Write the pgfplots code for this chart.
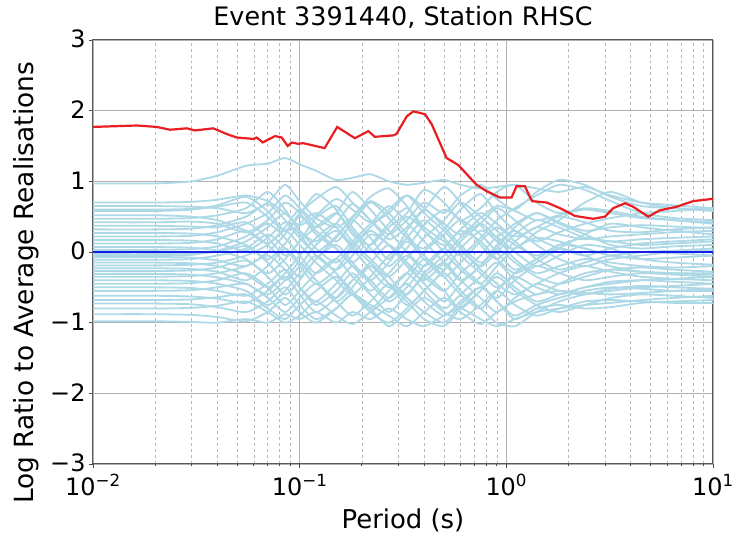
\documentclass[border=0pt]{standalone}
\usepackage{pgfplots}
\usepackage{pgfplotstable}
\pgfplotsset{compat=1.18}
\usepackage{fontspec}
\setmainfont{DejaVu Sans}
\definecolor{lb}{RGB}{173,216,230}
\definecolor{myred}{RGB}{232,30,35}
\definecolor{myblue}{RGB}{20,30,235}
\definecolor{gridc}{RGB}{176,176,176}

\pgfplotstableread{
T 0.01 0.02 0.03 0.04 0.055 0.07 0.085 0.1 0.12 0.15 0.18 0.22 0.27 0.33 0.4 0.5 0.6 0.75 0.9 1.1 1.4 1.8 2.4 3.2 4.5 6.5 10
1 0.97 0.97 1.00 1.08 1.22 1.25 1.33 1.24 1.15 1.02 1.05 1.10 1.00 0.95 0.98 1.02 0.95 0.90 0.92 0.95 0.90 0.85 0.92 0.80 0.70 0.66 0.62
2 0.70 0.70 0.71 0.74 0.80 0.72 0.55 0.38 0.52 0.75 0.60 0.42 0.55 0.80 0.62 0.40 0.25 0.48 0.65 0.58 0.45 0.52 0.60 0.55 0.48 0.45 0.42
3 0.65 0.65 0.64 0.62 0.55 0.70 0.95 0.72 0.48 0.35 0.50 0.78 0.90 0.65 0.30 0.10 0.32 0.55 0.40 0.22 0.35 0.50 0.42 0.30 0.28 0.32 0.35
4 0.58 0.58 0.60 0.66 0.78 0.58 0.30 0.52 0.82 0.60 0.25 0.10 0.35 0.55 0.88 0.70 0.45 0.62 0.85 0.95 0.70 0.55 0.62 0.58 0.50 0.45 0.40
5 0.52 0.52 0.50 0.45 0.30 0.12 0.35 0.60 0.40 0.15 0.42 0.70 0.48 0.20 0.05 0.32 0.60 0.82 0.55 0.30 0.15 0.28 0.40 0.48 0.55 0.58 0.62
6 0.47 0.47 0.48 0.52 0.62 0.85 0.60 0.30 0.15 0.40 0.68 0.45 0.18 0.35 0.60 0.92 0.70 0.38 0.15 0.05 0.28 0.45 0.70 0.85 0.70 0.62 0.58
7 0.42 0.42 0.43 0.40 0.28 0.45 0.70 0.55 0.25 0.05 -0.15 0.10 0.40 0.62 0.35 0.15 -0.05 0.20 0.45 0.62 0.80 0.95 0.88 0.72 0.55 0.48 0.45
8 0.37 0.37 0.36 0.35 0.42 0.20 -0.05 0.15 0.48 0.65 0.35 0.05 -0.20 0.05 0.38 0.60 0.45 0.10 -0.10 0.15 0.35 0.25 0.18 0.22 0.25 0.28 0.30
9 0.32 0.32 0.33 0.38 0.50 0.68 0.45 0.20 0.00 0.22 0.48 0.72 0.55 0.25 -0.05 -0.25 0.05 0.30 0.22 0.40 0.55 0.42 0.30 0.35 0.38 0.36 0.34
10 0.27 0.27 0.26 0.22 0.10 -0.10 0.12 0.40 0.55 0.35 0.10 -0.15 -0.35 -0.10 0.20 0.45 0.70 0.50 0.30 0.10 -0.05 0.10 0.20 0.15 0.18 0.20 0.22
11 0.22 0.22 0.23 0.28 0.40 0.55 0.80 0.62 0.35 0.55 0.85 0.60 0.30 0.00 -0.20 0.05 0.30 0.15 -0.10 -0.30 -0.15 0.05 0.25 0.40 0.35 0.30 0.25
12 0.17 0.17 0.16 0.12 0.02 0.20 0.42 0.25 -0.05 -0.25 -0.05 0.25 0.10 -0.20 -0.40 -0.15 0.15 0.40 0.62 0.45 0.20 0.05 -0.05 0.05 0.12 0.15 0.18
13 0.12 0.12 0.13 0.18 0.30 0.10 -0.15 -0.35 -0.10 0.20 0.45 0.20 -0.10 0.30 0.60 0.35 0.10 -0.15 0.05 0.35 0.55 0.40 0.25 0.10 0.05 0.08 0.10
14 0.07 0.07 0.06 0.02 -0.10 -0.30 -0.10 0.15 0.35 0.55 0.30 0.00 0.25 0.50 0.30 0.00 -0.25 -0.45 -0.20 0.05 0.20 0.15 0.05 -0.05 0.00 0.02 0.05
15 0.03 0.03 0.04 0.08 0.22 0.40 0.20 -0.05 -0.30 -0.10 0.15 0.40 0.65 0.42 0.15 -0.15 -0.40 -0.20 0.10 0.30 0.10 -0.10 -0.20 -0.10 -0.05 0.00 0.02
16 -0.03 -0.03 -0.02 0.00 0.08 -0.15 -0.40 -0.20 0.10 0.30 0.05 -0.25 -0.50 -0.30 0.00 0.25 0.45 0.25 0.00 -0.25 -0.10 0.10 0.05 -0.05 -0.10 -0.08 -0.05
17 -0.07 -0.07 -0.08 -0.12 -0.20 0.00 0.25 0.50 0.30 0.05 -0.20 -0.40 -0.15 0.15 -0.10 -0.35 -0.15 0.15 0.35 0.15 -0.10 -0.25 -0.15 -0.05 0.00 -0.02 -0.05
18 -0.11 -0.11 -0.10 -0.05 0.05 0.25 0.05 -0.20 -0.45 -0.25 0.05 0.30 0.10 -0.15 -0.35 -0.55 -0.30 -0.05 0.20 0.00 -0.20 -0.05 0.10 0.05 -0.10 -0.15 -0.18
19 -0.15 -0.15 -0.16 -0.20 -0.32 -0.50 -0.30 -0.05 0.20 0.40 0.15 -0.10 -0.35 -0.60 -0.30 -0.05 0.20 0.40 0.20 -0.10 -0.30 -0.20 -0.10 -0.15 -0.20 -0.22 -0.20
20 -0.19 -0.19 -0.18 -0.15 -0.05 0.10 0.30 0.10 -0.15 -0.40 -0.60 -0.35 -0.05 0.20 0.45 0.20 -0.05 -0.30 -0.50 -0.30 -0.10 0.05 -0.05 -0.20 -0.28 -0.30 -0.32
21 -0.23 -0.23 -0.24 -0.28 -0.40 -0.20 0.05 -0.15 -0.40 -0.65 -0.40 -0.15 0.10 -0.15 -0.45 -0.70 -0.45 -0.20 0.05 -0.15 -0.35 -0.45 -0.35 -0.25 -0.22 -0.25 -0.28
22 -0.27 -0.27 -0.26 -0.22 -0.12 -0.35 -0.60 -0.40 -0.10 0.10 -0.15 -0.45 -0.70 -0.50 -0.20 0.05 -0.20 -0.45 -0.65 -0.40 -0.20 -0.30 -0.40 -0.35 -0.30 -0.32 -0.35
23 -0.31 -0.31 -0.32 -0.36 -0.45 -0.60 -0.40 -0.15 -0.40 -0.70 -0.50 -0.20 -0.45 -0.75 -0.55 -0.25 0.00 -0.25 -0.45 -0.60 -0.45 -0.30 -0.20 -0.28 -0.35 -0.38 -0.40
24 -0.35 -0.35 -0.34 -0.30 -0.20 -0.05 -0.25 -0.50 -0.70 -0.45 -0.20 -0.40 -0.65 -0.40 -0.10 -0.35 -0.60 -0.80 -0.55 -0.35 -0.50 -0.60 -0.50 -0.42 -0.40 -0.42 -0.45
25 -0.40 -0.40 -0.41 -0.45 -0.55 -0.75 -0.55 -0.30 -0.05 -0.30 -0.55 -0.80 -0.55 -0.30 -0.55 -0.80 -0.60 -0.35 -0.15 -0.40 -0.60 -0.45 -0.30 -0.25 -0.28 -0.30 -0.30
26 -0.45 -0.45 -0.44 -0.40 -0.30 -0.50 -0.75 -0.55 -0.30 -0.10 -0.35 -0.60 -0.85 -0.60 -0.35 -0.15 -0.40 -0.65 -0.85 -0.65 -0.45 -0.55 -0.60 -0.52 -0.48 -0.50 -0.52
27 -0.50 -0.50 -0.51 -0.55 -0.62 -0.45 -0.25 -0.50 -0.75 -0.55 -0.30 -0.55 -0.30 -0.05 -0.30 -0.55 -0.80 -0.55 -0.30 -0.50 -0.70 -0.60 -0.50 -0.45 -0.40 -0.38 -0.35
28 -0.55 -0.55 -0.54 -0.50 -0.45 -0.65 -0.85 -0.65 -0.45 -0.70 -0.90 -0.70 -0.45 -0.65 -0.85 -1.00 -0.75 -0.50 -0.70 -0.90 -0.75 -0.65 -0.55 -0.50 -0.52 -0.55 -0.55
29 -0.62 -0.62 -0.63 -0.66 -0.72 -0.55 -0.35 -0.60 -0.85 -0.65 -0.40 -0.20 -0.45 -0.70 -0.95 -1.05 -0.80 -0.55 -0.35 -0.55 -0.75 -0.85 -0.75 -0.65 -0.60 -0.62 -0.65
30 -0.68 -0.68 -0.67 -0.64 -0.60 -0.80 -0.95 -0.75 -0.55 -0.35 -0.60 -0.85 -1.00 -0.80 -0.55 -0.30 -0.55 -0.80 -1.00 -1.05 -0.85 -0.70 -0.60 -0.55 -0.50 -0.48 -0.45
31 -0.73 -0.73 -0.74 -0.78 -0.85 -0.70 -0.50 -0.75 -0.95 -0.80 -0.60 -0.80 -1.05 -0.85 -0.65 -0.85 -0.95 -0.75 -0.55 -0.75 -0.90 -0.80 -0.70 -0.68 -0.70 -0.72 -0.72
32 -0.80 -0.80 -0.79 -0.76 -0.70 -0.85 -1.00 -0.90 -0.70 -0.90 -1.02 -0.85 -0.65 -0.45 -0.70 -0.90 -0.70 -0.50 -0.70 -0.95 -0.80 -0.75 -0.80 -0.78 -0.72 -0.70 -0.68
33 -0.88 -0.88 -0.89 -0.92 -0.98 -0.85 -0.65 -0.85 -1.00 -0.80 -0.60 -0.75 -0.90 -1.05 -0.85 -0.65 -0.85 -1.02 -0.85 -0.70 -0.60 -0.55 -0.58 -0.60 -0.58 -0.55 -0.52
34 -0.98 -0.98 -0.99 -1.00 -0.95 -1.00 -0.88 -0.95 -0.85 -1.00 -0.85 -0.95 -0.80 -0.95 -1.05 -0.90 -0.80 -0.95 -1.05 -0.95 -0.85 -0.80 -0.75 -0.72 -0.68 -0.65 -0.62
35 0.60 0.60 0.61 0.64 0.70 0.50 0.30 0.55 0.75 0.92 0.70 0.45 0.25 0.45 0.70 0.55 0.80 0.95 0.75 0.60 0.85 1.02 0.95 0.78 0.65 0.62 0.60
36 -0.05 -0.05 -0.04 0.02 0.15 0.35 0.55 0.30 0.05 -0.15 0.10 0.35 0.60 0.80 0.55 0.30 0.05 -0.20 0.00 0.25 0.45 0.35 0.20 0.15 0.10 0.12 0.15
}\raw
\pgfplotstabletranspose[colnames from=T]\realis\raw

\begin{document}
\begin{tikzpicture}
\begin{axis}[
  scale only axis, width=620bp, height=424bp,
  xmode=log, log basis x=10,
  xmin=0.01, xmax=10, ymin=-3, ymax=3,
  ytick={-3,-2,-1,0,1,2,3},
  yticklabels={−3,−2,−1,0,1,2,3},
  xtick={0.01,0.1,1,10},
  minor xtick={0.02,0.03,0.04,0.05,0.06,0.07,0.08,0.09,0.2,0.3,0.4,0.5,0.6,0.7,0.8,0.9,2,3,4,5,6,7,8,9},
  xticklabels={10\textsuperscript{−2},10\textsuperscript{−1},10\textsuperscript{0},10\textsuperscript{1}},
  xmajorgrids, ymajorgrids, xminorgrids,
  major grid style={gridc, line width=0.8bp},
  minor grid style={gridc!90, dashed, line width=0.6bp},
  tick pos=left, tick align=outside,
  major tick length=4bp, minor tick length=2.5bp,
  every tick/.style={black!70, line width=0.8bp},
  axis line style={black!65, line width=1bp},
  ticklabel style={font=\fontsize{24}{28}\selectfont},
  xticklabel style={yshift=-2.5bp},
  yticklabel style={yshift=1bp},
  title={Event 3391440, Station RHSC},
  title style={font=\fontsize{25.5}{30}\selectfont, at={(axis description cs:0.5,1)}, anchor=base, yshift=9bp},
  xlabel={Period (s)},
  xlabel style={font=\fontsize{26}{30}\selectfont, at={(axis description cs:0.5,0)}, anchor=base, yshift=-65bp},
  ylabel={Log Ratio to Average Realisations},
  ylabel style={font=\fontsize{26.5}{30}\selectfont, at={(axis description cs:-0.0952,0.427)}, anchor=base},
]
\pgfplotsinvokeforeach{1,...,36}{
  \addplot[lb, line width=1.8bp, smooth, tension=0.4] table[x=colnames, y index=#1]{\realis};
}
\addplot[myblue, line width=2.4bp] coordinates {(0.01,0) (10,0)};
\addplot[myred, line width=2.2bp] coordinates {
(0.010,1.77) (0.0163,1.79) (0.0203,1.77) (0.0236,1.73) (0.0284,1.75) (0.0311,1.72)
(0.0382,1.75) (0.0443,1.67) (0.0496,1.62) (0.0597,1.60) (0.0620,1.62) (0.0663,1.55)
(0.0760,1.64) (0.0819,1.62) (0.0875,1.50) (0.0915,1.55) (0.0985,1.53) (0.104,1.54)
(0.132,1.47) (0.152,1.77) (0.185,1.61) (0.215,1.71) (0.231,1.63) (0.284,1.65)
(0.294,1.67) (0.330,1.92) (0.355,1.99) (0.404,1.95) (0.435,1.81) (0.514,1.33)
(0.586,1.23) (0.718,0.95) (0.803,0.86) (0.931,0.77) (1.06,0.77) (1.12,0.93)
(1.23,0.93) (1.33,0.72) (1.57,0.70) (1.82,0.62) (2.15,0.51) (2.63,0.47)
(3.0,0.50) (3.29,0.62) (3.75,0.69) (4.11,0.64) (4.86,0.50) (5.53,0.59)
(6.66,0.64) (8.02,0.72) (9.84,0.75) (10,0.76)};
\end{axis}
\path (current axis.south west) ++(-93bp,-71bp) rectangle ([shift={(28bp,40bp)}]current axis.north east);
\end{tikzpicture}
\end{document}
